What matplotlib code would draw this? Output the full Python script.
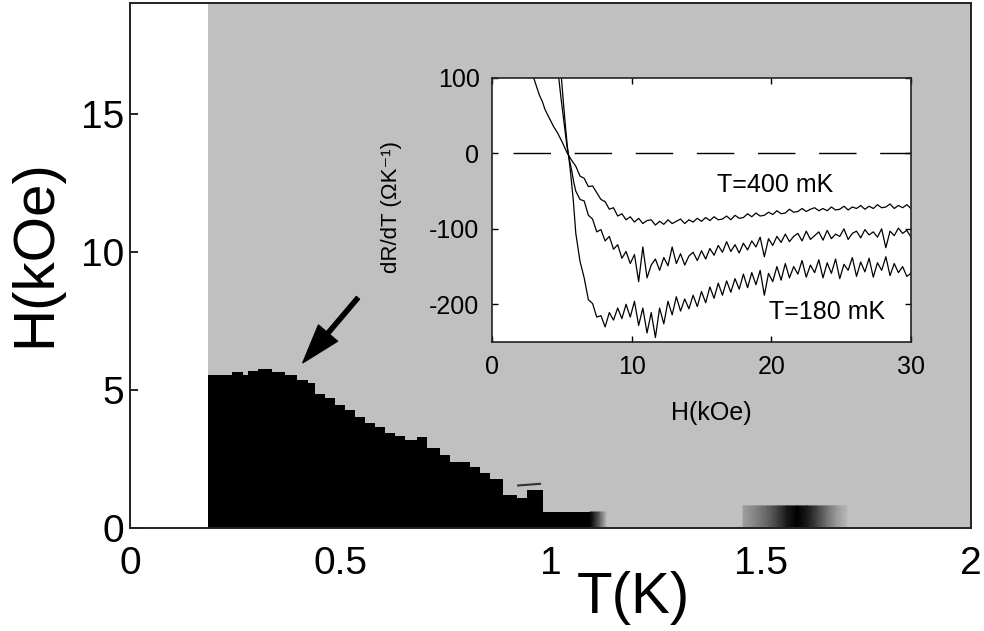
import matplotlib
matplotlib.use("Agg")
import matplotlib.pyplot as plt
import numpy as np

plt.rcParams['font.family'] = ['Liberation Sans', 'DejaVu Sans']
plt.rcParams['axes.unicode_minus'] = False

# --- main panel: H-T diagram -------------------------------------------
T_start = 0.186          # measured range starts here (white left of it)
T_edges = [0.186, 0.242, 0.269, 0.281, 0.305, 0.337, 0.369, 0.396, 0.424, 0.440,
           0.464, 0.488, 0.511, 0.535, 0.559, 0.583, 0.606, 0.630, 0.654, 0.683,
           0.706, 0.737, 0.761, 0.809, 0.832, 0.856, 0.888, 0.920, 0.943, 0.983,
           1.094]
H_bound = [5.52, 5.65, 5.52, 5.69, 5.76, 5.65, 5.52, 5.36, 5.25, 4.85,
           4.71, 4.46, 4.28, 4.02, 3.80, 3.66, 3.44, 3.34, 3.19, 3.30,
           2.90, 2.65, 2.39, 2.21, 1.99, 1.78, 1.20, 1.09, 1.38, 0.58]

# black -> grey fade at end of the low-field strip
fade_T = [1.094, 1.118, 1.134]
fade_gray = [0.0, 0.4, 0.753]
fade_H = 0.58

# dark spot near T = 1.6 K
blob_T = [1.458, 1.49, 1.515, 1.54, 1.562, 1.586, 1.61, 1.635, 1.658, 1.68, 1.705]
blob_gray = [0.62, 0.5, 0.4, 0.25, 0.1, 0.0, 0.1, 0.27, 0.45, 0.6, 0.72]
blob_H = 0.8

speck_T = [0.923, 0.975]
speck_H = [1.54, 1.60]

arrow_tail = (0.542, 8.33)
arrow_tip = (0.411, 5.98)

# --- inset: dR/dT vs H ----------------------------------------------------
H_noise = [6.0, 6.3, 6.6, 6.9, 7.2, 7.5, 7.8, 8.1, 8.4, 8.7,
           9.0, 9.3, 9.6, 9.9, 10.2, 10.5, 10.8, 11.1, 11.4, 11.7,
           12.0, 12.3, 12.6, 12.9, 13.2, 13.5, 13.8, 14.1, 14.4, 14.7,
           15.0, 15.3, 15.6, 15.9, 16.2, 16.5, 16.8, 17.1, 17.4, 17.7,
           18.0, 18.3, 18.6, 18.9, 19.2, 19.5, 19.8, 20.1, 20.4, 20.7,
           21.0, 21.3, 21.6, 21.9, 22.2, 22.5, 22.8, 23.1, 23.4, 23.7,
           24.0, 24.3, 24.6, 24.9, 25.2, 25.5, 25.8, 26.1, 26.4, 26.7,
           27.0, 27.3, 27.6, 27.9, 28.2, 28.5, 28.8, 29.1, 29.4, 29.7,
           30.0]

top_head_H = [2.9, 3.2, 3.4, 3.6, 3.8, 4.1, 4.4, 4.7, 5.0, 5.2, 5.4, 5.7]
top_head_v = [105, 88, 77, 69, 58, 47, 36, 27, 16, 8, 0, -9]
top_v = [-17, -30, -33, -44, -43, -52, -61, -64, -74, -72,
         -83, -80, -88, -84, -91, -86, -93, -89, -88, -95,
         -90, -94, -88, -93, -90, -87, -93, -88, -91, -86,
         -90, -85, -89, -84, -88, -87, -83, -88, -82, -86,
         -85, -80, -84, -79, -83, -82, -78, -81, -76, -80,
         -79, -74, -78, -77, -73, -77, -74, -72, -76, -73,
         -76, -71, -75, -74, -70, -75, -71, -73, -69, -74,
         -70, -73, -68, -72, -71, -67, -73, -69, -72, -68,
         -73]

mid_head_H = [4.95, 5.1, 5.25, 5.4, 5.5, 5.7, 5.85]
mid_head_v = [105, 70, 38, 8, -5, -22, -38]
mid_v = [-50, -61, -63, -82, -87, -104, -101, -116, -110, -127,
         -121, -139, -130, -146, -134, -170, -124, -165, -148, -140,
         -155, -138, -149, -124, -146, -133, -148, -136, -131, -142,
         -129, -140, -126, -135, -122, -131, -117, -130, -121, -132,
         -119, -128, -116, -124, -111, -137, -113, -122, -110, -118,
         -107, -117, -110, -106, -116, -103, -114, -109, -104, -115,
         -102, -113, -107, -110, -100, -114, -106, -103, -112, -101,
         -108, -104, -111, -100, -125, -103, -109, -99, -106, -102,
         -111]

bot_head_H = [4.75, 4.95, 5.15, 5.35, 5.5, 5.65, 5.82]
bot_head_v = [105, 72, 42, 12, -5, -30, -62]
bot_v = [-106, -143, -165, -194, -199, -217, -215, -230, -211, -221,
         -205, -219, -200, -217, -196, -228, -205, -238, -211, -244,
         -205, -226, -196, -214, -190, -209, -193, -206, -188, -203,
         -183, -198, -177, -192, -172, -188, -169, -184, -166, -180,
         -160, -178, -158, -174, -155, -188, -159, -170, -150, -168,
         -146, -165, -150, -160, -142, -164, -148, -158, -141, -165,
         -145, -159, -140, -166, -147, -155, -138, -163, -144, -157,
         -139, -164, -145, -155, -137, -162, -146, -158, -150, -163,
         -159]

label_hi = ('T=400 mK', 20.3, -51.7)
label_lo = ('T=180 mK', 24.0, -220)

GREY = '#c0c0c0'
SPINE = '#222222'

fig = plt.figure(figsize=(9.84, 6.31), dpi=100)
ax = fig.add_axes([0.1321, 0.1632, 0.8547, 0.832])
ax.set_axisbelow(True)
ax.set_xlim(0, 2)
ax.set_ylim(0, 19)

ax.axvspan(T_start, 2, color=GREY, lw=0, zorder=1)
ax.fill_between(T_edges, 0, H_bound + [H_bound[-1]], step='post',
                color='black', lw=0, zorder=2)

# smooth gray strips (fade and spot)
for xs, gs, hh in [(fade_T, fade_gray, fade_H), (blob_T, blob_gray, blob_H)]:
    X, Y = np.meshgrid(xs, [0, hh])
    C = np.vstack([gs, gs])
    ax.pcolormesh(X, Y, C, shading='gouraud', cmap='gray', vmin=0, vmax=1,
                  zorder=2)
ax.plot(speck_T, speck_H, color='#333333', lw=1.5, zorder=3)

ax.annotate('', xy=arrow_tip, xytext=arrow_tail,
            arrowprops=dict(facecolor='black', edgecolor='black', width=3,
                            headwidth=18, headlength=28, shrink=0),
            zorder=4)

ax.set_xticks([0, 0.5, 1, 1.5, 2])
ax.set_xticklabels(['0', '0.5', '1', '1.5', '2'])
ax.set_yticks([0, 5, 10, 15])
ax.tick_params(axis='y', direction='in', length=6, width=1.2, labelsize=28, pad=4)
ax.tick_params(axis='x', direction='in', length=0, labelsize=28, pad=13)
for s in ax.spines.values():
    s.set_color(SPINE)
    s.set_linewidth(1.4)

ax.set_xlabel('T(K)', fontsize=42)
ax.xaxis.label.set_va('baseline')
ax.xaxis.set_label_coords(0.598, -0.162)
ax.set_ylabel('H(kOe)', fontsize=42)
ax.yaxis.label.set_va('center')
ax.yaxis.set_label_coords(-0.113, 0.524)

# inset
ins = fig.add_axes([0.5, 0.458, 0.4258, 0.4184])
ins.set_facecolor('white')
ins.plot(top_head_H + H_noise, top_head_v + top_v, color='black', lw=0.9)
ins.plot(mid_head_H + H_noise, mid_head_v + mid_v, color='black', lw=0.9)
ins.plot(bot_head_H + H_noise, bot_head_v + bot_v, color='black', lw=0.9)
ins.plot([1.5, 30], [0, 0], color='black', lw=1.0, dashes=(27, 17))
ins.set_xlim(0, 30)
ins.set_ylim(-250, 100)
ins.set_xticks([0, 10, 20, 30])
ins.set_yticks([-200, -100, 0, 100])
ins.tick_params(direction='in', length=4, width=1, labelsize=18, pad=9,
                top=True, right=True)
for s in ins.spines.values():
    s.set_color(SPINE)
    s.set_linewidth(1.2)
for txt, hx, vy in [label_hi, label_lo]:
    ins.text(hx, vy, txt, fontsize=18, ha='center', va='baseline')
ins.set_xlabel('H(kOe)', fontsize=18)
ins.xaxis.label.set_va('baseline')
ins.xaxis.set_label_coords(0.523, -0.295)
ins.set_ylabel('dR/dT (ΩK⁻¹)', fontsize=16)
ins.yaxis.label.set_va('center')
ins.yaxis.set_label_coords(-0.239, 0.511)

fig.savefig('out.png', dpi=100)
